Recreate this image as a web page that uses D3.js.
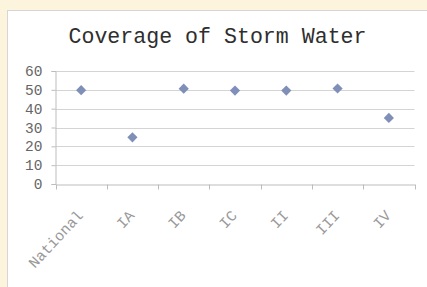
<!DOCTYPE html>
<html><head><meta charset="utf-8">
<script src="https://cdn.jsdelivr.net/npm/d3@7"></script>
<style>
html,body{margin:0;padding:0;background:#fdf4de;}
svg{display:block;}
</style></head>
<body>
<svg id="c" width="427" height="287"></svg>
<script>
const categories = ["National","IA","IB","IC","II","III","IV"];
const values = [49.8, 24.8, 50.6, 49.6, 49.6, 50.7, 35.1];
const yTicks = [0,10,20,30,40,50,60];
const title = "Coverage of Storm Water";

(function(){
const svg = d3.select("#c");
svg.append("rect").attr("x",0).attr("y",0).attr("width",427).attr("height",287).attr("fill","#fdf4de");
svg.append("rect").attr("x",7.5).attr("y",10.5).attr("width",430).attr("height",290)
  .attr("fill","#ffffff").attr("stroke","#d6d6d6");

const pl=55.5, pr=414.5, pt=71, pb=184;
const x = d3.scaleBand().domain(categories).range([pl,pr]);
const y = d3.scaleLinear().domain([0,60]).range([pb,pt]);

svg.append("text").attr("x",217.5).attr("y",43).attr("text-anchor","middle")
  .attr("font-family","'Liberation Mono', monospace").attr("font-size",21.6)
  .attr("fill","#2e2e2e").text(title);

svg.append("g").selectAll("line").data(yTicks.filter(d=>d>0)).join("line")
  .attr("x1",pl).attr("x2",pr)
  .attr("y1",d=>Math.round(y(d))+0.5).attr("y2",d=>Math.round(y(d))+0.5)
  .attr("stroke","#d4d4d4").attr("stroke-width",1);

const ya = svg.append("g").attr("transform",`translate(${pl},0)`)
  .call(d3.axisLeft(y).tickValues(yTicks).tickSize(4).tickPadding(9));
ya.select(".domain").attr("stroke","#bdbdbd");
ya.selectAll(".tick line").attr("stroke","#bdbdbd");
ya.selectAll(".tick text").attr("font-family","'Liberation Mono', monospace")
  .attr("font-size",14.5).attr("fill","#666");

const xa = svg.append("g").attr("transform",`translate(0,${Math.round(pb)+0.5})`)
  .call(d3.axisBottom(x).tickSize(0).tickFormat(""));
xa.select(".domain").attr("stroke","#bdbdbd");
const edges = categories.map(c=>x(c)).concat([x(categories[categories.length-1])+x.bandwidth()]);
xa.append("g").selectAll("line").data(edges).join("line")
  .attr("x1",d=>Math.round(d)+0.5).attr("x2",d=>Math.round(d)+0.5).attr("y1",0).attr("y2",5)
  .attr("stroke","#bdbdbd");
xa.append("g").selectAll("text").data(categories).join("text")
  .attr("transform",d=>`translate(${x(d)+x.bandwidth()/2-1},${28}) rotate(-47)`)
  .attr("text-anchor","end").attr("dy","0.35em")
  .attr("font-family","'Liberation Mono', monospace").attr("font-size",15)
  .attr("fill","#999").text(d=>d);

const sym = d3.symbol().type(d3.symbolSquare).size(52);
svg.append("g").selectAll("path").data(values).join("path")
  .attr("d",sym)
  .attr("transform",(d,i)=>`translate(${x(categories[i])+x.bandwidth()/2},${y(d)}) rotate(45)`)
  .attr("fill","#7f8fb8");
})();
</script>
</body></html>
